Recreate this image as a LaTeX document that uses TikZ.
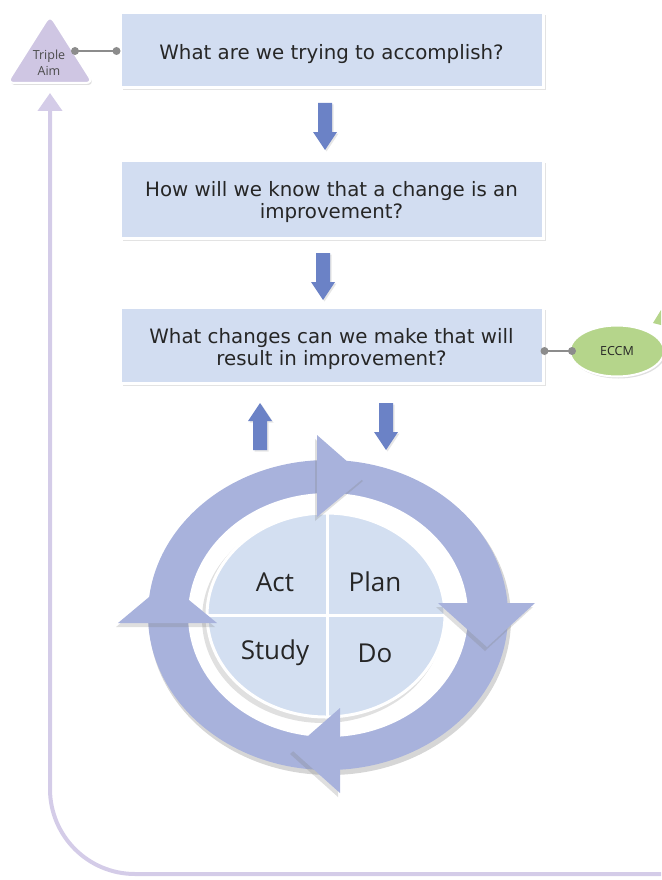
\documentclass[tikz,border=0pt]{standalone}
\usepackage{fontspec}
\setmainfont{DejaVu Sans}
\newfontfamily\osfont{Open Sans}
\usetikzlibrary{shadows,arrows.meta,shapes.geometric}
\definecolor{boxfill}{HTML}{D2DDF1}
\definecolor{ringc}{HTML}{A8B2DC}
\definecolor{diskc}{HTML}{D3DFF1}
\definecolor{arrowc}{HTML}{6B82C6}
\definecolor{tric}{HTML}{CFC6E3}
\definecolor{fbc}{HTML}{D4CCE8}
\definecolor{greenc}{HTML}{B5D58B}
\definecolor{txtc}{HTML}{262626}
\definecolor{dotc}{HTML}{8C8C8C}
\tikzset{
  qbox/.style={rectangle, fill=boxfill, draw=white, line width=3pt,
    minimum width=423pt,
    drop shadow={shadow xshift=2.5pt, shadow yshift=-2.5pt, opacity=0.22}},
  qtext/.style={align=center, text=txtc, inner sep=0pt,
    font=\fontsize{19.8}{22}\selectfont},
  softshadow/.style={drop shadow={shadow xshift=-2pt, shadow yshift=-4pt, opacity=0.25}},
  pdsa/.style={text=txtc, font=\osfont\fontsize{26}{30}\selectfont},
  linkline/.style={draw=dotc, line width=2pt},
  pics/blockdown/.style={code={
    \fill[arrowc, drop shadow={shadow xshift=1.5pt, shadow yshift=-1.5pt, opacity=0.2}]
      (-7,0) -- (7,0) -- (7,29) -- (12,29) -- (0,47) -- (-12,29) -- (-7,29) -- cycle;}}
}
\begin{document}
\begin{tikzpicture}[x=1pt,y=-1pt]
\useasboundingbox (0,0) rectangle (661,880);

% feedback line
\coordinate (fbStart) at (661,874);
\coordinate (fbEnd) at (50,93);
\draw[fbc, line width=4pt, rounded corners=85pt, -{Triangle[width=24pt,length=18pt]}]
  (fbStart) -- (50,874) -- (fbEnd);

% question boxes
\node[qbox, minimum height=75pt] (b1) at (331.5,50.5) {};
\node[qtext] (t1) at (331.5,54) {What are we trying to accomplish?};
\node[qbox, minimum height=78pt] (b2) at (331.5,199) {};
\node[qtext] (t2) at (331.5,202.5) {How will we know that a change is an\\improvement?};
\node[qbox, minimum height=76pt] (b3) at (331.5,345.5) {};
\node[qtext] (t3) at (331.5,349.5) {What changes can we make that will\\result in improvement?};

% block arrows
\pic at (325,103) {blockdown};
\pic at (323,253) {blockdown};
\pic[yscale=-1] at (260,450) {blockdown};
\pic at (386,403) {blockdown};

% triple aim
\filldraw[tric, draw=white, line width=2pt, rounded corners=7pt,
  drop shadow={shadow xshift=1.5pt, shadow yshift=-2pt, opacity=0.25}]
  (50,15) -- (93,83) -- (7,83) -- cycle;
\node[align=center, text=black!70, font=\osfont\fontsize{12.5}{16}\selectfont] (tri) at (49,63) {Triple\\Aim};
\coordinate (triR) at (75,51);
\draw[linkline] (triR) -- ([xshift=-2pt]b1.west |- triR);
\fill[dotc] (triR) circle (4pt);
\fill[dotc] ([xshift=-2pt]b1.west |- triR) circle (4pt);

% ECCM
\fill[greenc] (653,323) -- (661,310) -- (661,325) -- cycle;
\node[ellipse, fill=greenc, draw=white, line width=2pt, minimum width=94pt, minimum height=51pt,
  text=txtc, font=\osfont\fontsize{12.5}{14}\selectfont,
  drop shadow={shadow xshift=1.5pt, shadow yshift=-2pt, opacity=0.25}] (eccm) at (617,351) {ECCM};
\coordinate (b3R) at (b3.east |- eccm.west);
\draw[linkline] (b3R) -- ([xshift=3pt]eccm.west);
\fill[dotc] (b3R) circle (4pt);
\fill[dotc] ([xshift=3pt]eccm.west) circle (4pt);

% PDSA ring
\fill[black, opacity=0.16] (330,619) ellipse [x radius=181pt, y radius=156pt];
\fill[ringc] (328,615) ellipse [x radius=180pt, y radius=155pt];
\fill[white] (328,615) ellipse [x radius=140pt, y radius=122pt];
\fill[black, opacity=0.12] (323,619) ellipse [x radius=121pt, y radius=104pt];
\filldraw[diskc, draw=white, line width=3pt] (326,615) ellipse [x radius=119pt, y radius=102pt];
\draw[white, line width=3pt] (327,513) -- (327,717);
\draw[white, line width=3pt] (207,615) -- (445,615);
\node[pdsa] (act) at (275,582) {Act};
\node[pdsa] (plan) at (375,582) {Plan};
\node[pdsa] (study) at (275,653) {Study};
\node[pdsa] (do) at (375,653) {Do};

% ring arrowheads
\fill[ringc, softshadow] (317,435) -- (365,477) -- (317,517) -- cycle;
\fill[ringc, softshadow] (438,603) -- (535,603) -- (487,647) -- cycle;
\fill[ringc, softshadow] (340,708) -- (340,793) -- (292,750) -- cycle;
\fill[ringc, softshadow] (118,623) -- (167,582) -- (217,623) -- cycle;
\end{tikzpicture}
\end{document}
